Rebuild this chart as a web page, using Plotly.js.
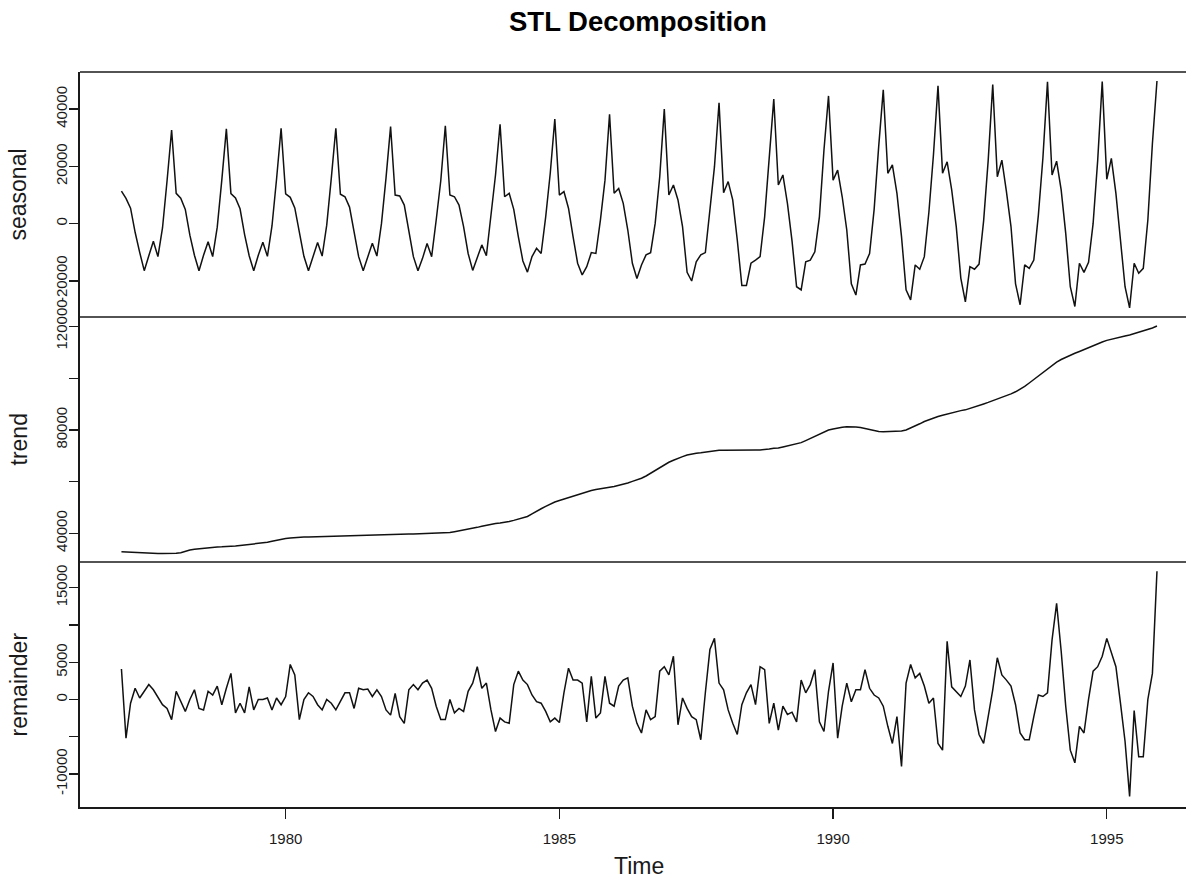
<!DOCTYPE html>
<html>
<head>
<meta charset="utf-8">
<script src="https://cdn.plot.ly/plotly-3.0.1.min.js"></script>
<style>
  html, body { margin: 0; padding: 0; background: #ffffff; }
  #chart { width: 1186px; height: 882px; }
</style>
</head>
<body>
<div id="chart"></div>
<script>
// Monthly series, Jan 1977 - Dec 1995 (frequency 12)
const startYear = 1977;
const frequency = 12;

const seasonal = [
  11400, 8800, 5400, -3000, -10000, -16400, -11200, -6100, -11500, -1500, 15000, 32700,
  10600, 8900, 5000, -4000, -11000, -16400, -11000, -6300, -11500, -1200, 15200, 33100,
  10500, 9000, 5200, -3800, -11200, -16400, -11000, -6500, -11400, -800, 15500, 33300,
  10400, 9200, 5500, -3500, -11400, -16400, -11200, -6600, -11300, -500, 15800, 33300,
  10300, 9400, 5800, -3000, -11500, -16400, -11500, -6800, -11300, 0, 16000, 33900,
  10000, 9700, 6500, -2200, -11500, -16400, -12100, -6900, -11500, 1300, 15000, 34200,
  10000, 9400, 6500, -1000, -10400, -16300, -11500, -7400, -11200, 2400, 17000, 34700,
  9400, 10600, 5000, -4500, -13000, -16900, -11500, -8600, -10400, 2400, 17600, 36500,
  10000, 11200, 5400, -4500, -13800, -17900, -15000, -10100, -10400, 1300, 15200, 38200,
  10600, 12300, 7100, -2200, -13800, -19100, -14400, -10900, -10100, 100, 16400, 40000,
  10000, 13500, 8300, -1000, -17000, -20000, -13300, -10900, -10100, 4800, 19900, 42200,
  10800, 14700, 8300, -5700, -21600, -21600, -13800, -12700, -11500, 2400, 22200, 43500,
  13500, 17000, 7000, -6000, -22000, -23100, -13300, -12700, -9800, 2400, 25700, 44600,
  15200, 18700, 9400, -2200, -21000, -24900, -14400, -14100, -10400, 5000, 27000, 46700,
  17600, 20500, 10600, -4500, -23100, -26600, -14400, -15900, -11500, 4000, 24000, 48100,
  17600, 21600, 11800, -1000, -19000, -27300, -15000, -15900, -14100, 1000, 22000, 48600,
  16400, 22200, 11200, -1000, -21000, -28300, -14400, -15600, -12700, 3000, 23000, 49500,
  17000, 21800, 11800, -3400, -22000, -28900, -13800, -17000, -13500, 0, 22000, 49600,
  15500, 22800, 10600, -5700, -22000, -29400, -13800, -17300, -15600, 1300, 28000, 49800
];

const trend = [
  32900, 32800, 32600, 32400, 32300, 32250, 32200, 32200, 32200, 32200, 32200, 32200,
  32250, 32500, 33100, 33500, 33800, 34000, 34300, 34500, 34600, 34700, 34750, 34800,
  34900, 35100, 35300, 35500, 35700, 35850, 36000, 36200, 36500, 36900, 37300, 37700,
  37950, 38150, 38350, 38450, 38550, 38600, 38650, 38700, 38750, 38850, 38950, 39100,
  39200, 39250, 39300, 39350, 39400, 39400, 39450, 39500, 39500, 39500, 39550, 39550,
  39600, 39600, 39650, 39700, 39700, 39750, 39800, 39850, 39900, 39950, 39980, 40000,
  40300, 40600, 40900, 41200, 41500, 41900, 42300, 42700, 43100, 43500, 43800, 44000,
  44200, 44600, 45000, 45500, 46000, 46500, 47500, 48600, 49500, 50400, 51300, 52100,
  52700, 53300, 53800, 54300, 54800, 55500, 56100, 56600, 57000, 57350, 57600, 57850,
  58100, 58500, 59000, 59500, 60100, 60600, 61300, 62200, 63300, 64500, 65600, 66600,
  67500, 68300, 69100, 69700, 70300, 70700, 71000, 71200, 71500, 71800, 72000, 72150,
  72200, 72250, 72300, 72300, 72300, 72300, 72300, 72300, 72300, 72400, 72600, 72900,
  73000, 73400, 73800, 74100, 74500, 75100, 75900, 76700, 77600, 78500, 79300, 80000,
  80400, 80800, 81100, 81300, 81300, 81200, 81000, 80600, 80100, 79700, 79450, 79350,
  79350, 79350, 79400, 79600, 80000, 80700, 81500, 82400, 83300, 84000, 84600, 85200,
  85700, 86200, 86700, 87100, 87500, 87800, 88300, 88900, 89500, 90100, 90700, 91300,
  92000, 92700, 93300, 94000, 94800, 95700, 96900, 98200, 99600, 101000, 102400, 103800,
  105200, 106300, 107300, 108200, 109000, 109700, 110400, 111200, 112000, 112800, 113500, 114100,
  114700, 115200, 115600, 116000, 116400, 116800, 117300, 118000, 118400, 118800, 119500, 120250
];

const remainder = [
  4100, -5200, -500, 1500, 200, 1100, 2000, 1300, 200, -700, -1200, -2700,
  1100, -300, -1600, 0, 1300, -1200, -1400, 1100, 600, 1800, -700, 1500,
  3500, -1800, -500, -1800, 1700, -1400, 0, 0, 200, -1400, 200, -700,
  400, 4700, 3300, -2700, 0, 900, 400, -700, -1400, 0, -500, -1400,
  -300, 900, 900, -1200, 1500, 1300, 1400, 400, 1300, 400, -1400, -2100,
  800, -2300, -3200, 1300, 2000, 1300, 2200, 2600, 1500, -900, -2700, -2700,
  0, -1800, -1200, -1600, 1100, 2200, 4400, 1500, 2200, -1400, -4300, -2500,
  -3000, -3200, 2000, 3800, 2600, 2000, 600, -300, -500, -1600, -3000, -2500,
  -3100, 900, 4200, 2600, 2600, 2200, -3000, 3100, -2500, -1800, 3100, -500,
  -900, 1800, 2600, 2900, -900, -3200, -4500, -1400, -2700, -2300, 3800, 4400,
  3300, 5800, -3400, 200, -1200, -2300, -2700, -5400, 900, 6700, 8200, 2200,
  1300, -1400, -3200, -4700, -700, 900, 2000, -700, 4400, 4000, -3200, -500,
  -4100, -900, -2000, -1700, -3000, 2600, 900, 2000, 4000, -3000, -4300, 1100,
  4900, -5200, -900, 2200, -300, 1300, 1300, 4000, 1500, 600, 200, -900,
  -3600, -5900, -2300, -9000, 2200, 4700, 2900, 3500, 1800, -500, 200, -5900,
  -6800, 7800, 1700, 1100, 400, 1800, 5300, -1400, -4700, -5900, -2300, 1300,
  5600, 3300, 2600, 1800, -700, -4500, -5400, -5400, -2300, 600, 400, 900,
  8000, 12900, 6500, -900, -6800, -8500, -3600, -4500, 0, 3800, 4400, 5800,
  8200, 6200, 4400, -500, -5600, -13000, -1500, -7700, -7700, 0, 3500, 17200
];

const xTickVals = [1980, 1985, 1990, 1995];
const xTickText = ['1980', '1985', '1990', '1995'];
const seasonalTicks = [-20000, 0, 20000, 40000];
const seasonalTickText = ['-20000', '0', '20000', '40000'];
const trendTicks = [40000, 60000, 80000, 100000, 120000];
const trendTickText = ['40000', '', '80000', '', '120000'];
const remainderTicks = [-10000, -5000, 0, 5000, 10000, 15000];
const remainderTickText = ['-10000', '', '0', '5000', '', '15000'];
const panelLabels = ['seasonal', 'trend', 'remainder'];

const time = seasonal.map((_, i) => startYear + i / frequency);

const FONT = 'Liberation Sans, Arial, Helvetica, sans-serif';
const INK = '#1a1a1a';
const lineStyle = { color: '#111111', width: 1.5 };

const traces = [
  { x: time, y: seasonal, type: 'scatter', mode: 'lines', line: lineStyle, xaxis: 'x', yaxis: 'y', hoverinfo: 'skip' },
  { x: time, y: trend, type: 'scatter', mode: 'lines', line: lineStyle, xaxis: 'x', yaxis: 'y2', hoverinfo: 'skip' },
  { x: time, y: remainder, type: 'scatter', mode: 'lines', line: lineStyle, xaxis: 'x', yaxis: 'y3', hoverinfo: 'skip' }
];

function yAxis(domain, range, vals, text) {
  return {
    domain: domain, range: range, anchor: 'x',
    tickmode: 'array', tickvals: vals, ticktext: text,
    ticks: 'outside', ticklen: 9, tickwidth: 1.3, tickcolor: INK,
    tickangle: -90, ticklabelstandoff: -4,
    tickfont: { family: FONT, size: 15, color: INK },
    showline: true, linecolor: INK, linewidth: 1.6,
    showgrid: false, zeroline: false, fixedrange: true
  };
}

const layout = {
  width: 1186, height: 882,
  margin: { l: 80, r: 0, t: 72, b: 75, pad: 0 },
  paper_bgcolor: '#ffffff', plot_bgcolor: '#ffffff',
  showlegend: false,
  font: { family: FONT, color: INK },
  xaxis: {
    domain: [0, 1], range: [1976.243, 1996.447], anchor: 'y3',
    tickmode: 'array', tickvals: xTickVals, ticktext: xTickText,
    ticks: 'outside', ticklen: 10, tickwidth: 1.3, tickcolor: INK,
    ticklabelstandoff: 7,
    tickfont: { family: FONT, size: 15, color: INK },
    showline: true, linecolor: INK, linewidth: 1.6,
    showgrid: false, zeroline: false, fixedrange: true
  },
  yaxis: yAxis([2 / 3, 1], [-32570, 52950], seasonalTicks, seasonalTickText),
  yaxis2: yAxis([1 / 3, 2 / 3], [28887, 123756], trendTicks, trendTickText),
  yaxis3: yAxis([0, 1 / 3], [-14428, 18449], remainderTicks, remainderTickText),
  shapes: [1, 2 / 3, 1 / 3].map(yv => ({
    type: 'line', xref: 'paper', yref: 'paper', x0: 0, x1: 1, y0: yv, y1: yv,
    line: { color: INK, width: 1.6 }
  })),
  annotations: [
    { text: '<b>STL Decomposition</b>', xref: 'paper', yref: 'paper', x: (637.5 - 80) / 1106, y: (807 - 21) / 735,
      xanchor: 'center', yanchor: 'middle', showarrow: false, font: { family: FONT, size: 27.5, color: '#000' } },
    { text: 'Time', xref: 'paper', yref: 'paper', x: (639 - 80) / 1106, y: (807 - 866) / 735,
      xanchor: 'center', yanchor: 'middle', showarrow: false, font: { family: FONT, size: 23, color: INK } }
  ].concat(panelLabels.map((lab, k) => ({
    text: lab, xref: 'paper', yref: 'paper', x: (18 - 80) / 1106, y: [5 / 6, 0.5, 1 / 6][k],
    xanchor: 'center', yanchor: 'middle', textangle: -90, showarrow: false,
    font: { family: FONT, size: 23, color: INK }
  })))
};

Plotly.newPlot('chart', traces, layout, { staticPlot: true, displayModeBar: false });
</script>
</body>
</html>
